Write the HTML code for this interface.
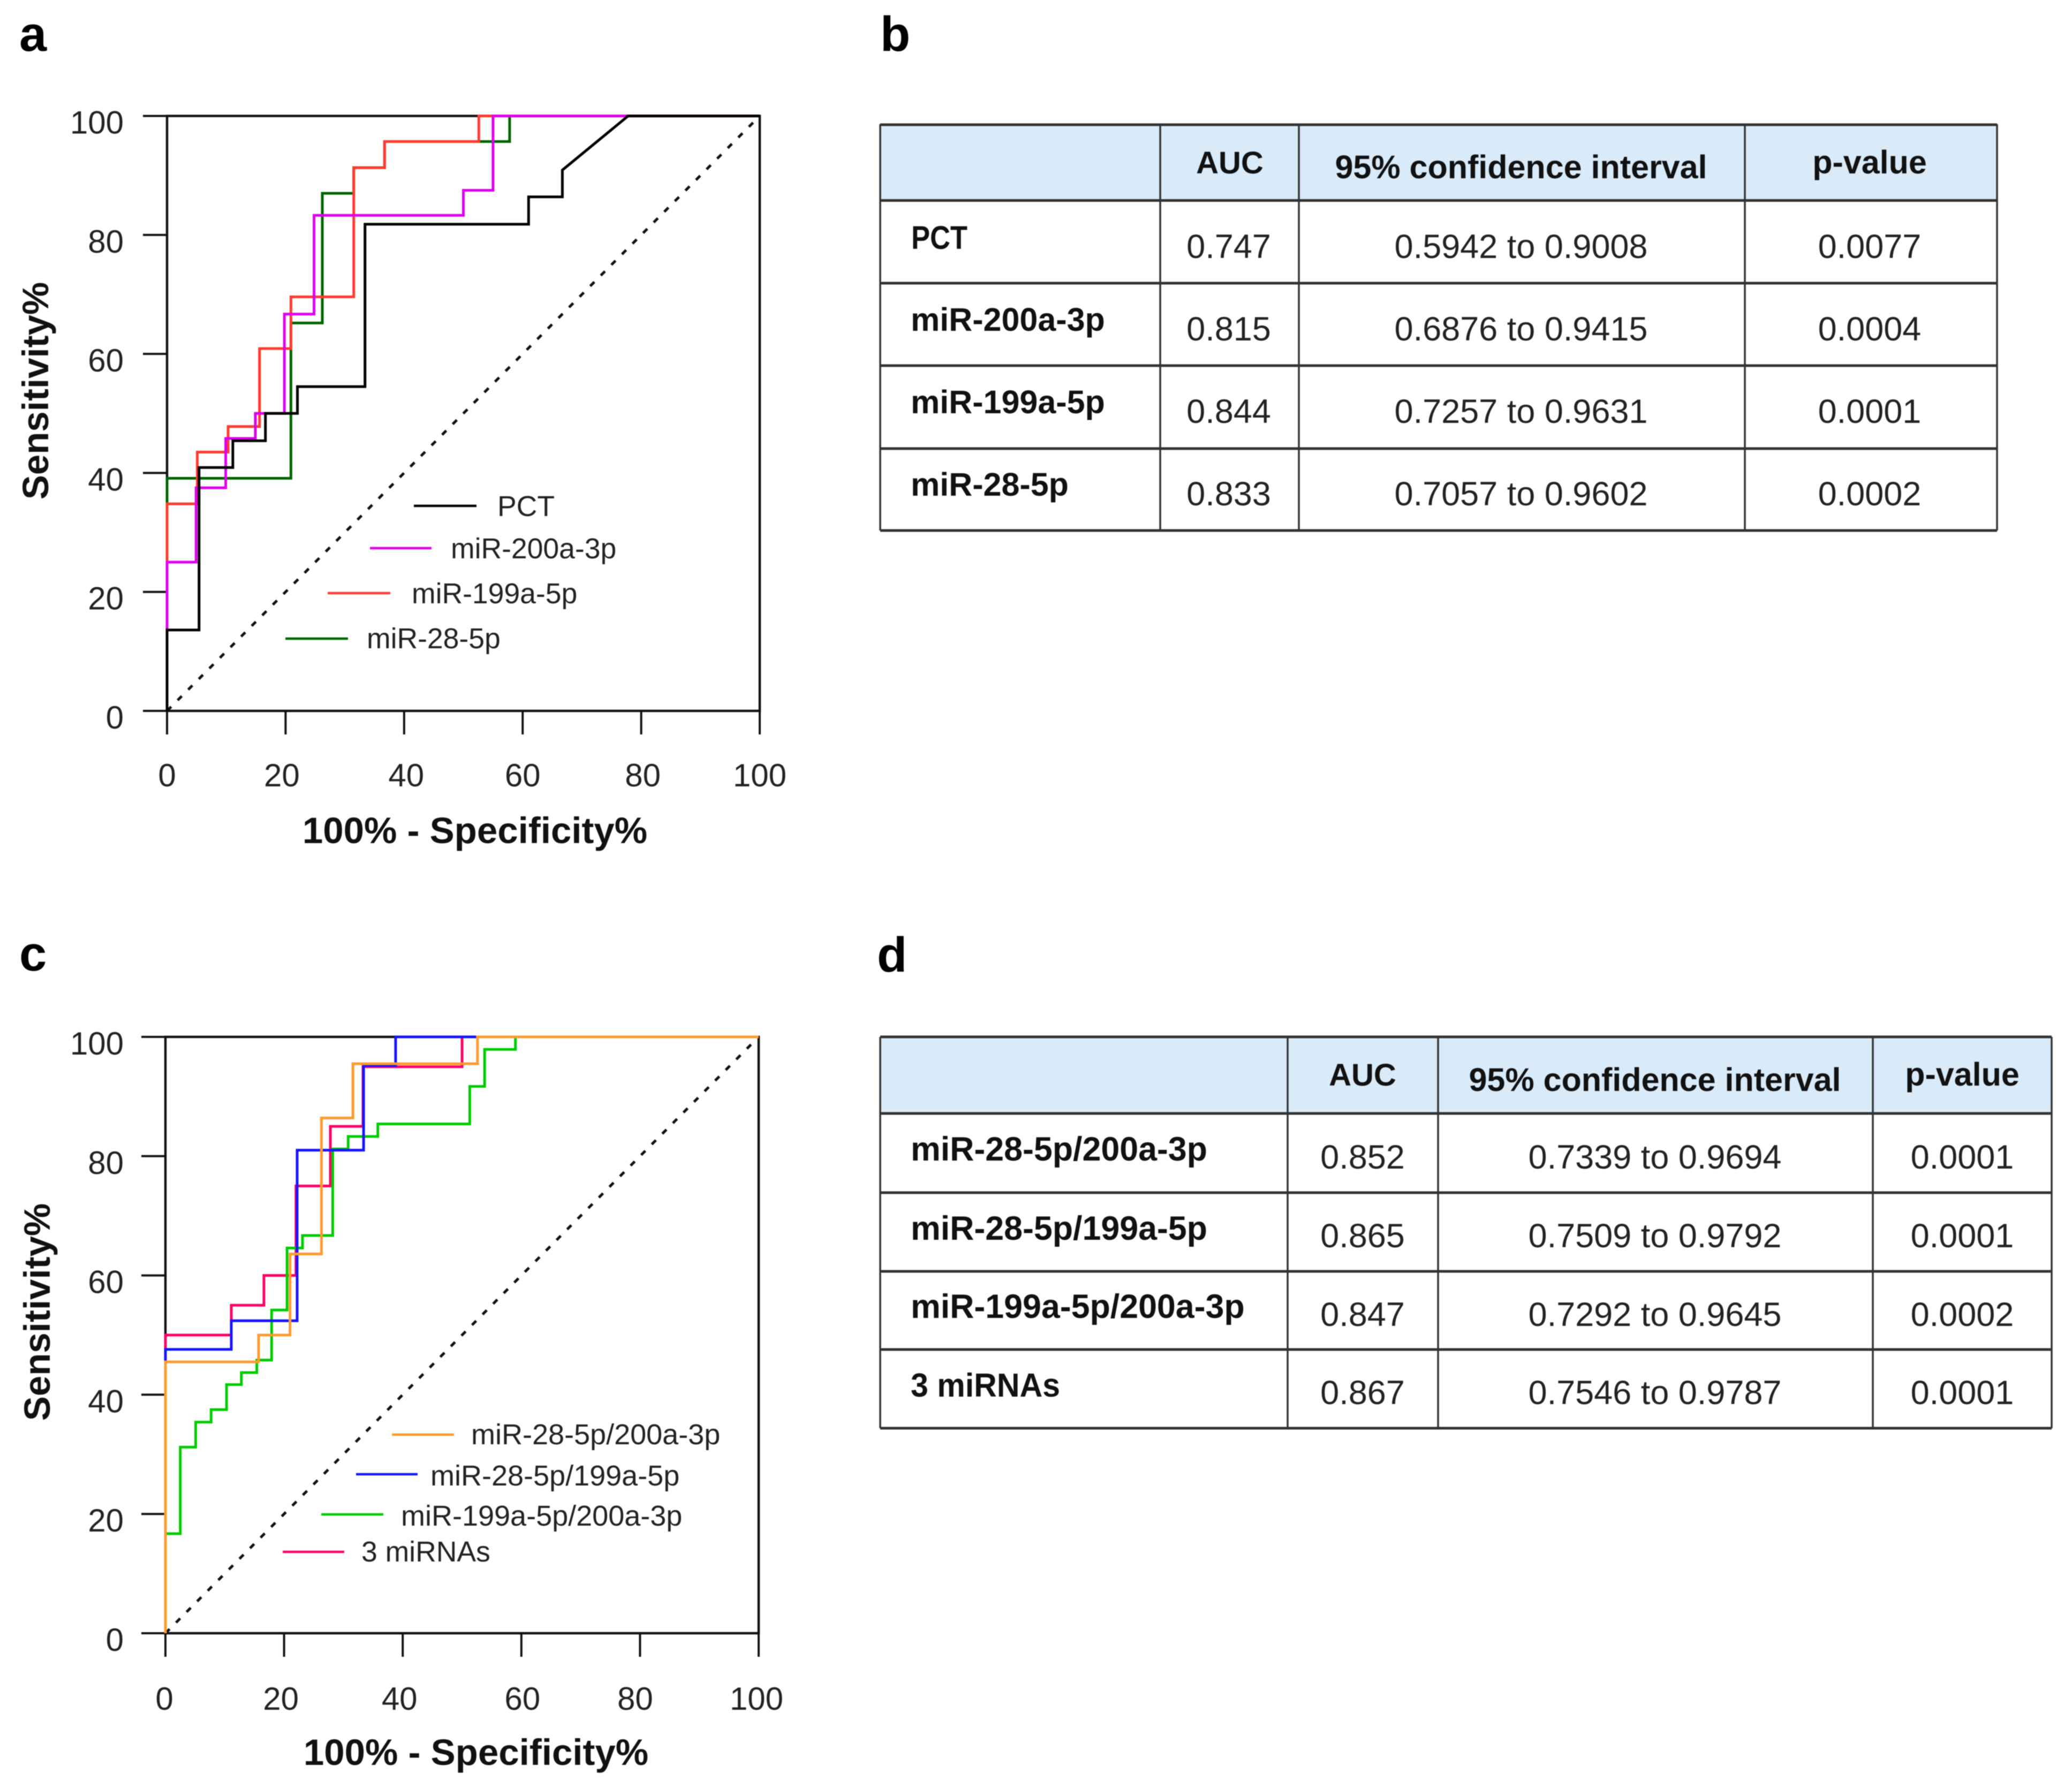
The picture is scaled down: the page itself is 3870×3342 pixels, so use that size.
<!DOCTYPE html>
<html lang="en">
<head>
<meta charset="utf-8">
<title>ROC curves and AUC tables</title>
<style>
html,body{margin:0;padding:0;background:#fff;}
svg{display:block;font-family:"Liberation Sans",Arial,sans-serif;filter:blur(0.8px);}
.lbl{font-size:61px;font-weight:bold;fill:#111;}
.val{font-size:63px;fill:#222;text-anchor:middle;}
.hdr{font-size:61px;font-weight:bold;fill:#111;text-anchor:middle;}
.hl{stroke:#333;stroke-width:5;}
.vl{stroke:#333;stroke-width:3.5;}
.pl{font-size:92px;font-weight:bold;fill:#000;}
.leg{fill:#222;}
</style>
</head>
<body>
<svg id="fig" xmlns="http://www.w3.org/2000/svg" width="3870" height="3342" viewBox="0 0 3870 3342">
<rect width="3870" height="3342" fill="#fff"/>
<text class="pl" x="36" y="95">a</text>
<text class="pl" x="1644" y="95">b</text>
<text class="pl" x="36" y="1813">c</text>
<text class="pl" x="1638" y="1815">d</text>

<g id="chartA"></g>
<g id="chartC"></g>

<g>
<g><line x1="773" x2="890" y1="945" y2="945" stroke="#000" stroke-width="4.5"/><text class="leg" x="929" y="964" font-size="53.5">PCT</text></g>
<g><line x1="691" x2="806" y1="1024" y2="1024" stroke="#dd00ee" stroke-width="4.5"/><text class="leg" x="842" y="1043" font-size="53.5">miR-200a-3p</text></g>
<g><line x1="612" x2="729" y1="1108" y2="1108" stroke="#ff3b30" stroke-width="4.5"/><text class="leg" x="769" y="1127" font-size="53.5">miR-199a-5p</text></g>
<g><line x1="533" x2="650" y1="1193" y2="1193" stroke="#006400" stroke-width="4.5"/><text class="leg" x="685" y="1211" font-size="53.5">miR-28-5p</text></g>
</g>

<g>
<g><line x1="732" x2="848" y1="2680" y2="2680" stroke="#ff9a2e" stroke-width="4.5"/><text class="leg" x="880" y="2698" font-size="54">miR-28-5p/200a-3p</text></g>
<g><line x1="665" x2="780" y1="2754" y2="2754" stroke="#1414ff" stroke-width="4.5"/><text class="leg" x="804" y="2775" font-size="54">miR-28-5p/199a-5p</text></g>
<g><line x1="600" x2="716" y1="2829" y2="2829" stroke="#00cc00" stroke-width="4.5"/><text class="leg" x="749" y="2850" font-size="54">miR-199a-5p/200a-3p</text></g>
<g><line x1="528" x2="643" y1="2899" y2="2899" stroke="#ff0066" stroke-width="4.5"/><text class="leg" x="675" y="2917" font-size="53.5">3 miRNAs</text></g>
</g>

<g>
<rect x="1644" y="232" width="2086" height="142" fill="#d9eaf8"/>
<line class="hl" x1="1644" x2="3730" y1="233" y2="233"/>
<line class="hl" x1="1644" x2="3730" y1="374.5" y2="374.5"/>
<line class="hl" x1="1644" x2="3730" y1="529" y2="529"/>
<line class="hl" x1="1644" x2="3730" y1="683" y2="683"/>
<line class="hl" x1="1644" x2="3730" y1="838" y2="838"/>
<line class="hl" x1="1644" x2="3730" y1="991" y2="991"/>
<line class="vl" x1="1644" x2="1644" y1="232" y2="991"/>
<line class="vl" x1="2167" x2="2167" y1="232" y2="991"/>
<line class="vl" x1="2426" x2="2426" y1="232" y2="991"/>
<line class="vl" x1="3259" x2="3259" y1="232" y2="991"/>
<line class="vl" x1="3730" x2="3730" y1="232" y2="991"/>
<text class="hdr" x="2297" y="324" style="font-size:58px">AUC</text>
<text class="hdr" x="2841" y="333">95% confidence interval</text>
<text class="hdr" x="3492" y="324">p-value</text>
<text class="lbl" x="1702" y="465" textLength="105" lengthAdjust="spacingAndGlyphs">PCT</text>
<text class="val" x="2295" y="482">0.747</text>
<text class="val" x="2841" y="482">0.5942 to 0.9008</text>
<text class="val" x="3492" y="482">0.0077</text>
<text class="lbl" x="1701" y="618">miR-200a-3p</text>
<text class="val" x="2295" y="636">0.815</text>
<text class="val" x="2841" y="636">0.6876 to 0.9415</text>
<text class="val" x="3492" y="636">0.0004</text>
<text class="lbl" x="1701" y="772">miR-199a-5p</text>
<text class="val" x="2295" y="790">0.844</text>
<text class="val" x="2841" y="790">0.7257 to 0.9631</text>
<text class="val" x="3492" y="790">0.0001</text>
<text class="lbl" x="1701" y="926">miR-28-5p</text>
<text class="val" x="2295" y="944">0.833</text>
<text class="val" x="2841" y="944">0.7057 to 0.9602</text>
<text class="val" x="3492" y="944">0.0002</text>
</g>

<g>
<rect x="1644" y="1937" width="2188" height="143" fill="#d9eaf8"/>
<line class="hl" x1="1644" x2="3832" y1="1937" y2="1937"/>
<line class="hl" x1="1644" x2="3832" y1="2080" y2="2080"/>
<line class="hl" x1="1644" x2="3832" y1="2228" y2="2228"/>
<line class="hl" x1="1644" x2="3832" y1="2375" y2="2375"/>
<line class="hl" x1="1644" x2="3832" y1="2521" y2="2521"/>
<line class="hl" x1="1644" x2="3832" y1="2668" y2="2668"/>
<line class="vl" x1="1644" x2="1644" y1="1937" y2="2668"/>
<line class="vl" x1="2405" x2="2405" y1="1937" y2="2668"/>
<line class="vl" x1="2686" x2="2686" y1="1937" y2="2668"/>
<line class="vl" x1="3498" x2="3498" y1="1937" y2="2668"/>
<line class="vl" x1="3832" x2="3832" y1="1937" y2="2668"/>
<text class="hdr" x="2545" y="2028" style="font-size:58px">AUC</text>
<text class="hdr" x="3091" y="2038">95% confidence interval</text>
<text class="hdr" x="3665" y="2028">p-value</text>
<text class="lbl" x="1701" y="2168" style="font-size:62.7px">miR-28-5p/200a-3p</text>
<text class="val" x="2545" y="2183">0.852</text>
<text class="val" x="3091" y="2183">0.7339 to 0.9694</text>
<text class="val" x="3665" y="2183">0.0001</text>
<text class="lbl" x="1701" y="2316" style="font-size:62.7px">miR-28-5p/199a-5p</text>
<text class="val" x="2545" y="2330">0.865</text>
<text class="val" x="3091" y="2330">0.7509 to 0.9792</text>
<text class="val" x="3665" y="2330">0.0001</text>
<text class="lbl" x="1701" y="2462" style="font-size:62.7px">miR-199a-5p/200a-3p</text>
<text class="val" x="2545" y="2477">0.847</text>
<text class="val" x="3091" y="2477">0.7292 to 0.9645</text>
<text class="val" x="3665" y="2477">0.0002</text>
<text class="lbl" x="1701" y="2609" style="font-size:62px" textLength="279" lengthAdjust="spacingAndGlyphs">3 miRNAs</text>
<text class="val" x="2545" y="2623">0.867</text>
<text class="val" x="3091" y="2623">0.7546 to 0.9787</text>
<text class="val" x="3665" y="2623">0.0001</text>
</g>
</svg>

<script>
// Tick labels shared by both ROC charts
const xTicks = [0, 20, 40, 60, 80, 100];
const yTicks = [0, 20, 40, 60, 80, 100];

// Reference diagonal
const diagonalX = [0, 100];
const diagonalY = [0, 100];

// Panel a: 100% - specificity and sensitivity vertices
const pctX = [0, 0, 5.4, 5.4, 11.1, 11.1, 16.6, 16.6, 22, 22, 33.4, 33.4, 61, 61, 66.7, 66.7, 77.8, 100];
const pctY = [0, 13.6, 13.6, 40.9, 40.9, 45.4, 45.4, 50, 50, 54.5, 54.5, 81.8, 81.8, 86.4, 86.4, 90.9, 100, 100];
const mir200X = [0, 0, 4.9, 4.9, 9.9, 9.9, 14.9, 14.9, 19.8, 19.8, 24.8, 24.8, 50, 50, 55, 55, 100];
const mir200Y = [0, 25, 25, 37.5, 37.5, 45.8, 45.8, 50, 50, 66.7, 66.7, 83.3, 83.3, 87.5, 87.5, 100, 100];
const mir199X = [0, 0, 5.1, 5.1, 10.3, 10.3, 15.6, 15.6, 20.9, 20.9, 31.5, 31.5, 36.7, 36.7, 52.6, 52.6, 100];
const mir199Y = [0, 34.8, 34.8, 43.5, 43.5, 47.8, 47.8, 60.9, 60.9, 69.6, 69.6, 91.3, 91.3, 95.7, 95.7, 100, 100];
const mir28X = [0, 0, 20.9, 20.9, 26.2, 26.2, 31.5, 31.5, 36.7, 36.7, 57.8, 57.8, 100];
const mir28Y = [0, 39.1, 39.1, 65.2, 65.2, 87, 87, 91.3, 91.3, 95.7, 95.7, 100, 100];

// Panel c: 100% - specificity and sensitivity vertices
const threeX = [0, 0, 11.1, 11.1, 16.6, 16.6, 22, 22, 27.8, 27.8, 33.3, 33.3, 50, 50, 100];
const threeY = [0, 50, 50, 55, 55, 60, 60, 75, 75, 85, 85, 95, 95, 100, 100];
const combo199X = [0, 0, 2.5, 2.5, 5.1, 5.1, 7.7, 7.7, 10.3, 10.3, 12.8, 12.8, 15.4, 15.4, 17.9, 17.9, 20.5, 20.5, 23.1, 23.1, 28.2, 28.2, 30.8, 30.8, 35.8, 35.8, 51.3, 51.3, 53.8, 53.8, 59, 59, 100];
const combo199Y = [0, 16.7, 16.7, 31.2, 31.2, 35.4, 35.4, 37.5, 37.5, 41.7, 41.7, 43.7, 43.7, 45.8, 45.8, 54.2, 54.2, 64.6, 64.6, 66.7, 66.7, 81.2, 81.2, 83.3, 83.3, 85.4, 85.4, 91.7, 91.7, 97.9, 97.9, 100, 100];
const combo28x199X = [0, 0, 11.1, 11.1, 22.2, 22.2, 33.4, 33.4, 38.8, 38.8, 100];
const combo28x199Y = [0, 47.6, 47.6, 52.4, 52.4, 81, 81, 95.2, 95.2, 100, 100];
const combo28x200X = [0, 0, 15.7, 15.7, 21, 21, 26.3, 26.3, 31.6, 31.6, 52.6, 52.6, 100];
const combo28x200Y = [0, 45.5, 45.5, 50, 50, 63.6, 63.6, 86.4, 86.4, 95.5, 95.5, 100, 100];

const SVGNS = 'http://www.w3.org/2000/svg';
function make(tag, attrs, parent) {
  const el = document.createElementNS(SVGNS, tag);
  for (const k in attrs) el.setAttribute(k, attrs[k]);
  parent.appendChild(el);
  return el;
}

function drawChart(root, frame, seriesList) {
  const xScale = v => frame.x0 + (v / 100) * (frame.x100 - frame.x0);
  const yScale = v => frame.y0 - (v / 100) * (frame.y0 - frame.y100);

  const box = make('rect', {x: xScale(0), y: yScale(100), width: xScale(100) - xScale(0), height: yScale(0) - yScale(100), fill: 'none', stroke: '#111', 'stroke-width': 4.5}, root);
  
  

  xTicks.forEach((v, i) => {
    const t = make('line', {x1: xScale(v), x2: xScale(v), y1: yScale(0), y2: yScale(0) + 44, stroke: '#111', 'stroke-width': 4}, root);
    
    
    const l = make('text', {x: xScale(v) + (frame.xNudge[i] || 0), y: frame.xLabelY, 'text-anchor': 'middle', 'font-size': 60, fill: '#222'}, root);
    l.textContent = v;
    
    
  });
  yTicks.forEach(v => {
    const t = make('line', {x1: xScale(0) - 45, x2: xScale(0), y1: yScale(v), y2: yScale(v), stroke: '#111', 'stroke-width': 4}, root);
    
    
    const l = make('text', {x: 231, y: yScale(v) + 33, 'text-anchor': 'end', 'font-size': 60, fill: '#222'}, root);
    l.textContent = v;
    
    
  });

  const toPoints = (xs, ys) => xs.map((x, i) => xScale(x) + ',' + yScale(ys[i])).join(' ');

  const diag = make('polyline', {points: toPoints(diagonalX, diagonalY), fill: 'none', stroke: '#111', 'stroke-width': 5, 'stroke-dasharray': '11 17'}, root);
  
  

  seriesList.forEach(s => {
    const p = make('polyline', {points: toPoints(s.x, s.y), fill: 'none', stroke: s.color, 'stroke-width': 5, 'stroke-linejoin': 'miter'}, root);
    
    
  });

  const xt = make('text', {x: frame.xTitleX, y: frame.xTitleY, 'text-anchor': 'middle', 'font-size': 69, 'font-weight': 'bold', fill: '#111'}, root);
  xt.textContent = '100% - Specificity%';
  
  

  const yt = make('text', {transform: 'translate(' + frame.yTitleX + ' ' + frame.yTitleY + ') rotate(-90)', 'text-anchor': 'middle', 'font-size': 69, 'font-weight': 'bold', fill: '#111'}, root);
  yt.textContent = 'Sensitivity%';
  
  
}

drawChart(document.getElementById('chartA'),
  {x0: 312, x100: 1419, y0: 1328, y100: 216.6, xLabelY: 1469, xNudge: [0, -7, 4, 0, 3, 0], xTitleX: 887, xTitleY: 1575, yTitleX: 90, yTitleY: 730},
  [
    {name: 'curve-mir-28-5p', color: '#006400', x: mir28X, y: mir28Y},
    {name: 'curve-mir-199a-5p', color: '#ff3b30', x: mir199X, y: mir199Y},
    {name: 'curve-mir-200a-3p', color: '#dd00ee', x: mir200X, y: mir200Y},
    {name: 'curve-pct', color: '#000000', x: pctX, y: pctY}
  ]);

drawChart(document.getElementById('chartC'),
  {x0: 309, x100: 1417, y0: 3051, y100: 1937, xLabelY: 3194, xNudge: [-2, -6, -6, 2, -9, -4], xTitleX: 889, xTitleY: 3297, yTitleX: 93, yTitleY: 2451},
  [
    {name: 'curve-3-mirnas', color: '#ff0066', x: threeX, y: threeY},
    {name: 'curve-mir-199a-5p-200a-3p', color: '#00cc00', x: combo199X, y: combo199Y},
    {name: 'curve-mir-28-5p-199a-5p', color: '#1414ff', x: combo28x199X, y: combo28x199Y},
    {name: 'curve-mir-28-5p-200a-3p', color: '#ff9a2e', x: combo28x200X, y: combo28x200Y}
  ]);
</script>
</body>
</html>
